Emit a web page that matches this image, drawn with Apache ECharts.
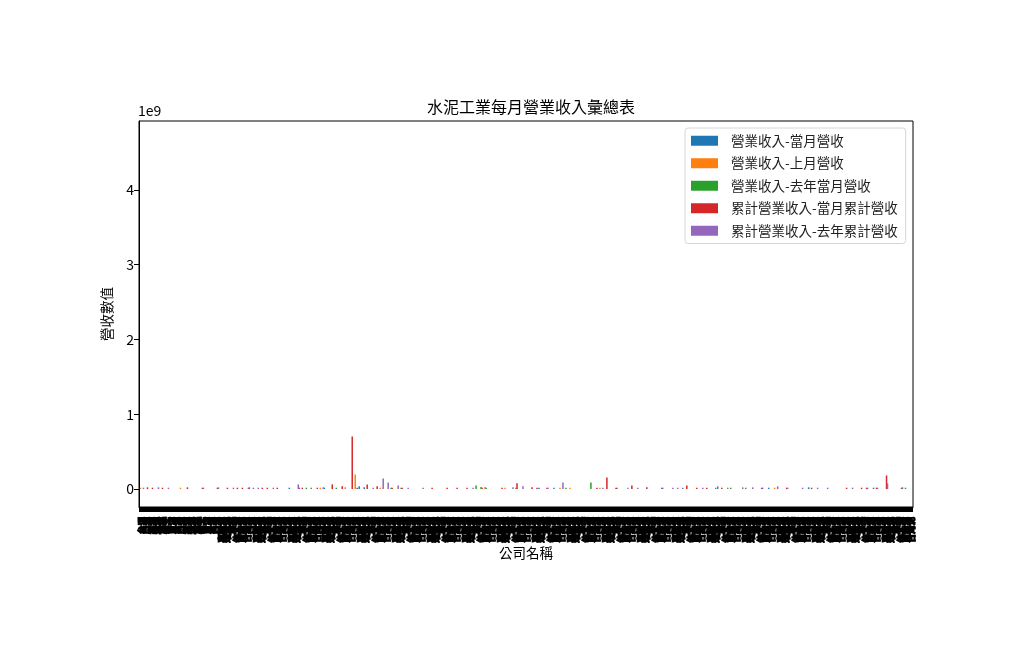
<!DOCTYPE html>
<html>
<head>
<meta charset="utf-8">
<script src="https://cdn.jsdelivr.net/npm/echarts@6/dist/echarts.min.js"></script>
<style>
html,body{margin:0;padding:0;background:#fff;}
#chart{width:1022px;height:662px;}
</style>
</head>
<body>
<div id="chart"></div>
<script>
// ---- data (sparse [categoryIndex, value]) ----
const categories = (
  "台泥 亞泥 嘉泥 環泥 幸福 信大 東泥 台泥 亞泥 嘉泥 環泥 幸福 信大 東泥 台泥 " +
  "亞泥 嘉新泥 環球泥 幸福 信大泥 東南泥 台灣泥 亞泥 嘉新泥 環球泥 幸福 信大泥 東南泥 台灣泥 " +
  "亞泥 嘉新泥 環球泥 幸福 信大泥 東南泥 台灣泥 亞泥 嘉新泥 環球泥 幸福 信大泥 東南泥 台灣泥 " +
  "亞泥 嘉新泥 環球泥 幸福 信大泥 東南泥 台灣泥 亞泥 嘉新泥 環球泥 幸福 信大泥 東南泥 台灣泥 " +
  "亞泥 嘉新泥 環球泥 幸福 信大泥 東南泥 台灣泥 亞泥 嘉新泥 環球泥 幸福 信大泥 東南泥 台灣泥 " +
  "亞泥 嘉新泥 環球泥 幸福 信大泥 東南泥 台灣泥 亞泥 嘉新泥 環球泥 幸福 信大泥 東南泥 台灣泥 " +
  "亞泥 嘉新泥 環球泥 幸福 信大泥 東南泥 台灣泥 亞泥 嘉新泥 環球泥 幸福 信大泥 東南泥 台灣泥 " +
  "亞泥 嘉新泥 環球泥 幸福 信大泥 東南泥 台灣泥 亞泥 嘉新泥 環球泥 幸福 信大泥 東南泥 台灣泥 " +
  "亞泥 嘉新泥 環球泥 幸福 信大泥 東南泥 台灣泥 亞泥 嘉新泥 環球泥 幸福 信大泥 東南泥 台灣泥 " +
  "亞泥 嘉新泥 環球泥 幸福 信大泥 東南泥 台灣泥 亞泥 嘉新泥 環球泥 幸福 信大泥 東南泥 台灣泥 " +
  "亞泥 嘉新泥 環球泥 幸福 信大泥 東南泥 台灣泥 亞泥 嘉新泥 環球泥 幸福 信大泥 東南泥 台灣泥"
).split(" ");

const seriesNames = [
  "營業收入-當月營收",
  "營業收入-上月營收",
  "營業收入-去年當月營收",
  "累計營業收入-當月累計營收",
  "累計營業收入-去年累計營收"
];

const revThisMonth = [
  [22, 23000000], [30, 18000000], [32, 18000000], [37, 18000000], [44, 36000000],
  [45, 23000000], [80, 18000000], [83, 18000000], [126, 18000000], [134, 23000000],
  [147, 18000000]
];

const revLastMonth = [
  [0, 18000000], [8, 18000000], [36, 18000000], [41, 23000000], [43, 196000000],
  [48, 18000000], [69, 27000000], [73, 18000000], [84, 18000000], [86, 18000000],
  [92, 18000000], [127, 18000000]
];

const revLastYearMonth = [
  [33, 18000000], [34, 18000000], [39, 18000000], [50, 18000000], [52, 18000000],
  [67, 49000000], [68, 27000000], [69, 18000000], [75, 18000000], [85, 18000000],
  [90, 89000000], [95, 18000000], [115, 18000000], [118, 18000000], [121, 18000000],
  [153, 18000000]
];

const cumThisYear = [
  [1, 23000000], [2, 18000000], [4, 18000000], [9, 23000000], [12, 18000000],
  [15, 18000000], [17, 18000000], [19, 18000000], [20, 18000000], [24, 18000000],
  [25, 18000000], [27, 18000000], [32, 18000000], [35, 18000000], [38, 62000000],
  [40, 36000000], [42, 703000000], [43, 18000000], [45, 62000000], [47, 36000000],
  [50, 18000000], [52, 18000000], [58, 18000000], [61, 18000000], [63, 18000000],
  [65, 18000000], [68, 18000000], [72, 18000000], [75, 76000000], [78, 23000000],
  [79, 18000000], [81, 18000000], [91, 18000000], [93, 156000000], [95, 18000000],
  [98, 49000000], [101, 23000000], [104, 18000000], [109, 49000000], [111, 18000000],
  [113, 18000000], [116, 18000000], [124, 18000000], [129, 18000000], [134, 18000000],
  [141, 18000000], [144, 18000000], [145, 18000000], [147, 18000000], [149, 182000000],
  [152, 18000000]
];

const cumLastYear = [
  [0, 18000000], [3, 23000000], [5, 18000000], [12, 18000000], [15, 23000000],
  [18, 18000000], [21, 18000000], [22, 18000000], [23, 18000000], [26, 18000000],
  [31, 62000000], [36, 23000000], [46, 18000000], [48, 142000000], [49, 89000000],
  [51, 49000000], [53, 18000000], [56, 18000000], [66, 18000000], [74, 23000000],
  [76, 36000000], [81, 18000000], [84, 89000000], [92, 18000000], [97, 18000000],
  [99, 18000000], [104, 18000000], [106, 18000000], [107, 18000000], [108, 18000000],
  [112, 18000000], [115, 36000000], [117, 18000000], [120, 23000000], [122, 23000000],
  [124, 18000000], [127, 36000000], [129, 18000000], [132, 18000000], [135, 18000000],
  [137, 18000000], [142, 18000000], [145, 18000000], [147, 18000000], [149, 76000000],
  [152, 23000000]
];

const yTickValues = [0, 1e9, 2e9, 3e9, 4e9];
const yMin = -240000000;
const yMax = 4920000000;

// ---- chart ----
const colors = ['#1f77b4', '#ff7f0e', '#2ca02c', '#d62728', '#9467bd'];
const allData = [revThisMonth, revLastMonth, revLastYearMonth, cumThisYear, cumLastYear];
const FONT = "'Noto Sans CJK TC', 'Noto Sans', sans-serif";

const chart = echarts.init(document.getElementById('chart'), null, {renderer: 'canvas'});

chart.setOption({
  animation: false,
  color: colors,
  textStyle: {fontFamily: FONT},
  title: [{
    text: '水泥工業每月營業收入彙總表',
    left: 526,
    top: 94,
    textAlign: 'center',
    textStyle: {fontSize: 16, fontWeight: 'normal', color: '#000', fontFamily: FONT}
  }, {
    text: '1e9',
    left: 138,
    top: 104,
    padding: 0,
    textStyle: {fontSize: 14, fontWeight: 'normal', color: '#000', fontFamily: FONT}
  }],
  legend: {
    orient: 'vertical',
    left: 685,
    top: 128,
    padding: [6, 8, 6, 6],
    itemWidth: 27,
    itemHeight: 10,
    itemGap: 9,
    icon: 'rect',
    borderColor: '#d6d6d6',
    borderWidth: 1,
    borderRadius: 3,
    backgroundColor: '#fff',
    data: seriesNames,
    textStyle: {fontSize: 13.5, color: '#222', fontFamily: FONT, padding: [0, 0, 0, 8]}
  },
  grid: {
    left: 139, top: 121, width: 774, height: 386,
    show: true, borderColor: '#000', borderWidth: 1, containLabel: false
  },
  xAxis: {
    type: 'category',
    data: categories,
    name: '公司名稱',
    nameLocation: 'middle',
    nameGap: 39,
    nameMoveOverlap: false,
    nameTextStyle: {fontSize: 13.5, color: '#000', fontFamily: FONT},
    axisLine: {onZero: false, lineStyle: {color: '#000', width: 1}},
    axisTick: {show: true, interval: 0, alignWithLabel: true, length: 5, lineStyle: {color: '#000', width: 5}},
    axisLabel: {
      interval: 0, rotate: 90, fontSize: 8.5, fontWeight: 'bold', color: '#000', margin: 10,
      fontFamily: FONT, textBorderColor: '#000', textBorderWidth: 1.2
    },
    splitLine: {show: false}
  },
  yAxis: {
    type: 'value',
    min: yMin,
    max: yMax,
    name: '營收數值',
    nameLocation: 'middle',
    nameGap: 25,
    nameRotate: 90,
    nameMoveOverlap: false,
    nameTextStyle: {fontSize: 13.5, color: '#000', fontFamily: FONT},
    axisLine: {show: true, lineStyle: {color: '#000', width: 1}},
    axisTick: {show: true, length: 5, customValues: yTickValues, lineStyle: {color: '#000'}},
    axisLabel: {
      customValues: yTickValues,
      fontSize: 14, color: '#000', margin: 5, fontFamily: FONT,
      formatter: v => String(Math.round(v / 1e9))
    },
    splitLine: {show: false}
  },
  series: seriesNames.map((n, i) => ({
    name: n,
    type: 'bar',
    data: allData[i],
    barWidth: 1.5,
    barGap: '-33.3%',
    itemStyle: {color: colors[i]}
  }))
});
</script>
</body>
</html>
